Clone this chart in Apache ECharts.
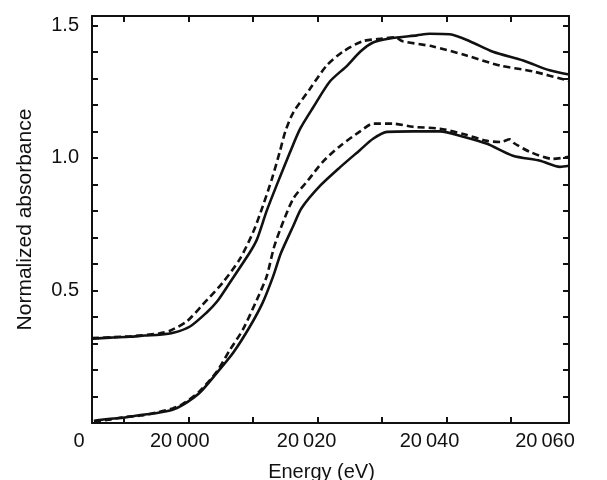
<!DOCTYPE html>
<html>
<head>
  <meta charset="utf-8" />
  <title>Normalized absorbance</title>
  <script src="https://cdn.jsdelivr.net/npm/echarts@6/dist/echarts.min.js"></script>
  <style>
    html,
    body {
      margin: 0;
      padding: 0;
      background: #ffffff;
    }
    #chart {
      width: 607px;
      height: 480px;
    }
  </style>
</head>
<body>
  <div id="chart"></div>
  <script>
    // energy (eV), normalized absorbance
    const upperSolid = [
      [19985.0, 0.318], [19987.8, 0.322], [19990.9, 0.325], [19993.2, 0.33],
      [19995.5, 0.333], [19997.6, 0.34], [20000.2, 0.364], [20002.8, 0.417],
      [20004.4, 0.458], [20006.4, 0.53], [20009.5, 0.644], [20010.6, 0.693],
      [20012.1, 0.8], [20013.7, 0.9], [20015.7, 1.02], [20017.3, 1.11],
      [20019.3, 1.19], [20021.9, 1.288], [20024.6, 1.348], [20026.6, 1.4],
      [20028.6, 1.435], [20031.2, 1.45], [20035.4, 1.462], [20037.4, 1.468],
      [20040.5, 1.466], [20043.6, 1.44], [20047.2, 1.4], [20051.9, 1.367],
      [20056.0, 1.33], [20059.0, 1.314],
    ];
    const upperDashed = [
      [19985.0, 0.32], [19990.9, 0.327], [19995.5, 0.338], [19997.1, 0.348],
      [19999.7, 0.383], [20002.2, 0.447], [20005.3, 0.53], [20007.9, 0.617],
      [20010.0, 0.72], [20011.5, 0.818], [20012.9, 0.92], [20014.1, 1.02],
      [20015.0, 1.1], [20016.2, 1.17], [20018.8, 1.26], [20021.4, 1.348],
      [20023.9, 1.4], [20027.0, 1.44], [20030.1, 1.45], [20032.0, 1.455],
      [20033.2, 1.44], [20037.9, 1.42], [20043.1, 1.386], [20048.3, 1.348],
      [20053.4, 1.326], [20059.0, 1.29],
    ];
    const lowerSolid = [
      [19985.3, 0.008], [19985.8, 0.01], [19987.5, 0.015], [19989.8, 0.02],
      [19992.5, 0.03], [19995.1, 0.038], [19997.5, 0.05], [19999.1, 0.068],
      [20001.7, 0.114], [20004.4, 0.19], [20006.9, 0.265], [20009.5, 0.364],
      [20011.5, 0.455], [20013.1, 0.553], [20014.3, 0.64], [20016.2, 0.742],
      [20017.5, 0.81], [20020.4, 0.895], [20023.5, 0.965], [20026.6, 1.03],
      [20028.6, 1.072], [20030.8, 1.098], [20034.8, 1.1], [20039.0, 1.1],
      [20042.6, 1.08], [20046.3, 1.053], [20050.3, 1.008], [20054.5, 0.989],
      [20057.6, 0.966], [20059.0, 0.97],
    ];
    const lowerDashed = [
      [19985.3, 0.005], [19987.5, 0.012], [19989.8, 0.022], [19992.5, 0.028],
      [19995.1, 0.04], [19997.5, 0.055], [19999.1, 0.072], [20001.7, 0.12],
      [20004.4, 0.195], [20006.4, 0.276], [20008.4, 0.352], [20010.6, 0.466],
      [20012.1, 0.553], [20013.2, 0.66], [20014.2, 0.73], [20016.2, 0.845],
      [20018.5, 0.915], [20020.8, 0.985], [20023.5, 1.045], [20026.6, 1.1],
      [20028.6, 1.129], [20031.7, 1.129], [20034.8, 1.117], [20039.0, 1.11],
      [20042.6, 1.09], [20046.3, 1.064], [20048.5, 1.06], [20049.8, 1.07],
      [20050.5, 1.055], [20052.9, 1.023], [20056.5, 0.996], [20059.0, 1.004],
    ];

    // axes
    const xTickValues = [19990, 20000, 20010, 20020, 20030, 20040, 20050];
    const xLabelValues = [19985, 20000, 20020, 20040, 20059];
    const xLabelTexts = ['0', '20\u2009000', '20\u2009020', '20\u2009040', '20\u2009060'];
    const yTickValues = [0.1, 0.2, 0.3, 0.4, 0.5, 0.6, 0.7, 0.8, 0.9, 1.0, 1.1, 1.2, 1.3, 1.4, 1.5];
    const yLabelValues = [0.5, 1.0, 1.5];
    const yLabelTexts = ['0.5', '1.0', '1.5'];

    const font = '"Liberation Sans", Arial, sans-serif';
    const ink = '#111111';

    const myChart = echarts.init(document.getElementById('chart'));

    const axisLine = { show: true, onZero: false, lineStyle: { color: ink, width: 2 } };
    const tickStyle = { show: true, inside: true, length: 6, lineStyle: { color: ink, width: 2 } };

    const lineSeries = (data, dashed) => ({
      type: 'line',
      data: data,
      showSymbol: false,
      smooth: 0.25,
      silent: true,
      lineStyle: {
        color: ink,
        width: 2.6,
        type: dashed ? [7, 4] : 'solid',
      },
    });

    const labelRich = (pad) => ({ padding: [0, pad, 0, 0], fontSize: 20, fontFamily: font, color: ink });

    myChart.setOption({
      animation: false,
      backgroundColor: '#ffffff',
      grid: {
        left: 92,
        right: 38,
        top: 16,
        bottom: 57,
        containLabel: false,
        outerBoundsMode: 'none',
      },
      xAxis: [
        {
          type: 'value',
          min: 19985,
          max: 20059,
          position: 'bottom',
          name: 'Energy (eV)',
          nameLocation: 'middle',
          nameGap: 39,
          nameTextStyle: { color: ink, fontFamily: font, fontSize: 20, padding: [0, 18, 0, 0] },
          axisLine: axisLine,
          axisTick: Object.assign({}, tickStyle, { customValues: xTickValues }),
          splitLine: { show: false },
          axisLabel: {
            customValues: xLabelValues,
            margin: 8,
            color: ink,
            fontFamily: font,
            fontSize: 20,
            formatter: (v) => {
              const i = xLabelValues.indexOf(v);
              return i < 0 ? '' : '{l' + i + '|' + xLabelTexts[i] + '}';
            },
            rich: {
              l0: labelRich(26),
              l1: labelRich(18),
              l2: labelRich(22),
              l3: labelRich(34),
              l4: labelRich(48),
            },
          },
        },
        {
          type: 'value',
          min: 19985,
          max: 20059,
          position: 'top',
          axisLine: axisLine,
          axisTick: Object.assign({}, tickStyle, { customValues: xTickValues }),
          axisLabel: { show: false },
          splitLine: { show: false },
        },
      ],
      yAxis: [
        {
          type: 'value',
          min: 0,
          max: 1.535,
          position: 'left',
          name: 'Normalized absorbance',
          nameLocation: 'middle',
          nameGap: 56,
          nameTextStyle: { color: ink, fontFamily: font, fontSize: 21 },
          axisLine: axisLine,
          axisTick: Object.assign({}, tickStyle, { customValues: yTickValues }),
          splitLine: { show: false },
          axisLabel: {
            customValues: yLabelValues,
            margin: 13,
            color: ink,
            fontFamily: font,
            fontSize: 20,
            formatter: (v) => {
              const i = yLabelValues.indexOf(v);
              return i < 0 ? '' : yLabelTexts[i];
            },
          },
        },
        {
          type: 'value',
          min: 0,
          max: 1.535,
          position: 'right',
          axisLine: axisLine,
          axisTick: Object.assign({}, tickStyle, { customValues: yTickValues }),
          axisLabel: { show: false },
          splitLine: { show: false },
        },
      ],
      series: [
        lineSeries(upperSolid, false),
        lineSeries(upperDashed, true),
        lineSeries(lowerSolid, false),
        lineSeries(lowerDashed, true),
      ],
    });

    window.addEventListener('resize', function () {
      myChart && myChart.resize();
    });
  </script>
</body>
</html>
